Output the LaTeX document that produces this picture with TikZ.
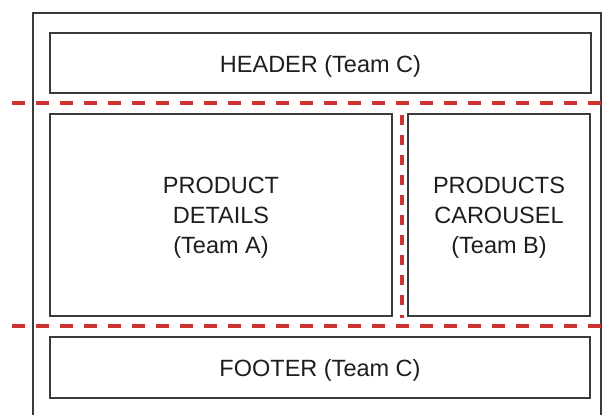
\documentclass[tikz,border=0pt]{standalone}
\usepackage{fontspec}
\setmainfont{Liberation Sans}
\definecolor{boxline}{HTML}{3A3A3A}
\definecolor{txt}{HTML}{1E1E1E}
\definecolor{splitred}{HTML}{CC3333}
\begin{document}
\begin{tikzpicture}[x=1pt,y=-1pt,
  region/.style={draw=boxline, line width=1.8pt, rectangle, inner sep=0pt},
  regiontext/.style={text=txt, align=center, inner sep=0pt,
    font=\fontsize{23.5}{30}\selectfont},
  outerline/.style={draw=boxline, line width=1.8pt},
  splitline/.style={draw=splitred, line width=3.5pt, dash pattern=on 13pt off 11pt},
  splitvline/.style={draw=splitred, line width=3.5pt, dash pattern=on 10pt off 10pt}]
\useasboundingbox (0,0) rectangle (603,415);
\draw[outerline] (33,418) -- (33,13) -- (601,13) -- (601,418);
\node[region, minimum width=541pt, minimum height=60pt] (header) at (320.5,63) {};
\node[region, minimum width=342pt, minimum height=202pt] (details) at (221,215) {};
\node[region, minimum width=182pt, minimum height=202pt] (carousel) at (499,215) {};
\node[region, minimum width=540pt, minimum height=61pt] (footer) at (320,367.5) {};
\node[regiontext] (headertext) at ([yshift=-3pt]header.center) {HEADER (Team C)};
\node[regiontext] (detailstext) at ([yshift=-3pt]details.center) {PRODUCT\\DETAILS\\(Team A)};
\node[regiontext] (carouseltext) at ([yshift=-3pt]carousel.center) {PRODUCTS\\CAROUSEL\\(Team B)};
\node[regiontext] (footertext) at ([yshift=-3pt]footer.center) {FOOTER (Team C)};
\coordinate (h1a) at (12,103);
\coordinate (h1b) at (603,103);
\coordinate (h2a) at (12,326);
\coordinate (h2b) at (603,326);
\coordinate (v1a) at (402,115);
\coordinate (v1b) at (402,318);
\draw[splitline] (h1a) -- (h1b);
\draw[splitline] (h2a) -- (h2b);
\draw[splitvline] (v1a) -- (v1b);
\end{tikzpicture}
\end{document}
